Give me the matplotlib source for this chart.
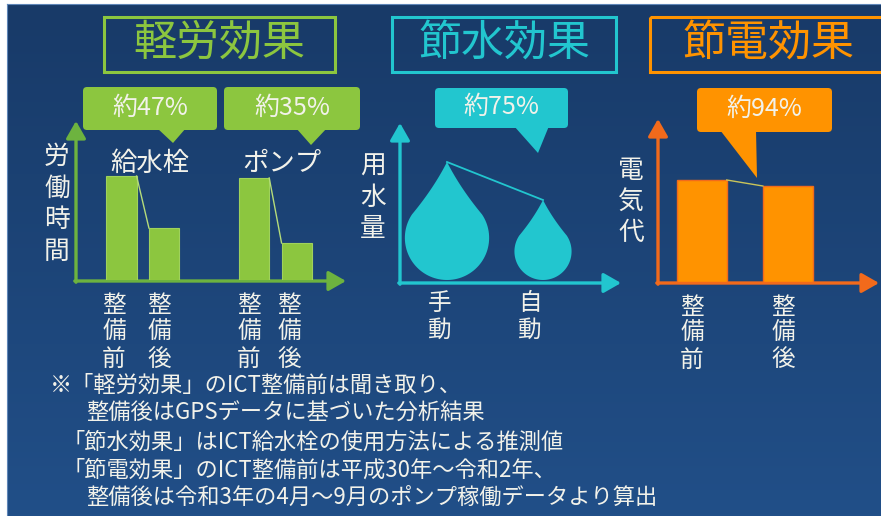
import numpy as np
import matplotlib
matplotlib.use('Agg')
import matplotlib.pyplot as plt
from matplotlib.patches import FancyBboxPatch, Polygon, Rectangle
from matplotlib.colors import to_rgb

plt.rcParams['font.family'] = ['Noto Sans CJK JP', 'DejaVu Sans']

# ---------------- data ----------------
titles = ['軽労効果', '節水効果', '節電効果']
labor_groups = ['給水栓', 'ポンプ']
labor_phase = ['整備前', '整備後']
labor_hours = [[104, 52], [102, 37]]
labor_pct = ['約47%', '約35%']
labor_ylabel = '労働時間'
water_cats = ['手動', '自動']
water_volume = [118, 80]
water_pct = '約75%'
water_ylabel = '用水量'
power_cats = ['整備前', '整備後']
power_cost = [102, 96]
power_pct = '約94%'
power_ylabel = '電気代'
notes = ['※「軽労効果」のICT整備前は聞き取り、',
         '整備後はGPSデータに基づいた分析結果',
         '「節水効果」はICT給水栓の使用方法による推測値',
         '「節電効果」のICT整備前は平成30年～令和2年、',
         '整備後は令和3年の4月～9月のポンプ稼働データより算出']

# ---------------- style ----------------
GREEN = '#8cc63f'
GREEN_AX = '#6db33f'
CYAN = '#22c6cf'
ORANGE = '#ff9300'
ORANGE_AX = '#f26a1b'
TXT = '#f2f2ea'

W, H = 881, 516
fig = plt.figure(figsize=(W / 100, H / 100), dpi=100)
fig.patch.set_facecolor('white')

bg = fig.add_axes([0, 0, 1, 1])
bg.set_xlim(0, W)
bg.set_ylim(H, 0)
bg.axis('off')

# background gradient
c_top = np.array(to_rgb('#183a68'))
c_bot = np.array(to_rgb('#214f88'))
t = np.linspace(0, 1, 256)[:, None, None]
grad = c_top * (1 - t) + c_bot * t
grad = np.repeat(grad, 2, axis=1)
bg.imshow(grad, extent=(7, W, H, 4), aspect='auto', origin='upper', zorder=0)
bg.plot([7, 7], [4, H], color='#5f86b8', lw=0.8, zorder=1)
bg.plot([7, W], [4, 4], color='#5f86b8', lw=0.8, zorder=1)


def px_axes(x0, y0, x1, y1):
    ax = fig.add_axes([x0 / W, 1 - y1 / H, (x1 - x0) / W, (y1 - y0) / H])
    ax.patch.set_alpha(0)
    ax.axis('off')
    return ax


def vtext(x, y0, s, dy, size, color=TXT):
    for k, ch in enumerate(s):
        bg.text(x, y0 + k * dy, ch, ha='center', va='center',
                fontsize=size, color=color, zorder=5)


def axis_arrows(ox, oy, top, right, color):
    ap = dict(arrowstyle='-|>,head_length=0.7,head_width=0.4', lw=2.4,
              color=color, shrinkA=0, shrinkB=0, mutation_scale=15)
    bg.annotate('', xy=(ox, top), xytext=(ox, oy + 1.2), arrowprops=ap, zorder=4)
    bg.annotate('', xy=(right, oy), xytext=(ox - 1.2, oy), arrowprops=ap, zorder=4)


def callout(x0, x1, y0, y1, tri, color, text):
    box = FancyBboxPatch((x0 + 4, y0 + 4), x1 - x0 - 8, y1 - y0 - 8,
                         boxstyle='round,pad=4', fc=color, ec='none', zorder=3)
    bg.add_patch(box)
    bg.add_patch(Polygon(tri, closed=True, fc=color, ec='none', zorder=3))
    bg.text((x0 + x1) / 2, (y0 + y1) / 2 - 1, text, ha='center', va='center',
            fontsize=18, color=TXT, zorder=5)


# ---------------- titles ----------------
title_boxes = [(104, 335, GREEN, 219), (392, 616, CYAN, 504), (650, 905, ORANGE, 768)]
for (x0, x1, c, tx), ttl in zip(title_boxes, titles):
    bg.add_patch(Rectangle((x0, 17), x1 - x0, 55, fill=False, ec=c, lw=2.2, zorder=3))
    bg.text(tx, 44, ttl, ha='center', va='center', fontsize=31, color=c, zorder=5)

# ---------------- panel 1: labor ----------------
axis_arrows(76, 281, 121, 346, GREEN_AX)
ax1 = px_axes(76, 123, 343, 280)
ax1.set_ylim(0, 157)
ax1.set_xlim(-1.07, 5.21)
bw = 0.71
for g, vals in enumerate(labor_hours):
    xs = [g * 3.12 + i for i in range(len(vals))]
    ax1.bar(xs, vals, width=bw, color=GREEN, edgecolor='#9fd25c', lw=0.8, zorder=2)
    ax1.plot([xs[0] + bw / 2, xs[1] - bw / 2], [vals[0], vals[1]],
             color='#b5dc7a', lw=1.0, zorder=3)
    bg.text([150, 282][g], 163, labor_groups[g], ha='center', va='center',
            fontsize=19, color=TXT, zorder=5)
    for i, ph in enumerate(labor_phase):
        vtext([[114, 159], [249, 289]][g][i], 306, ph, 26.5, 17)
vtext(57, 157, labor_ylabel, 31.5, 18.5)

callout(83, 217, 87, 130, [(157, 128), (186, 128), (173, 143)], GREEN, labor_pct[0])
callout(224, 360, 87, 130, [(296, 128), (327, 128), (311, 145)], GREEN, labor_pct[1])

# ---------------- panel 2: water ----------------
axis_arrows(400, 283, 123, 621, CYAN)
ax2 = px_axes(400, 125, 618, 280)
ax2.set_xlim(0, 218)
ax2.set_ylim(0, 155)


def drop(cx, h):
    r = h / 2.8
    d = h - r
    th = np.arccos(r / d)
    ang = np.linspace(np.pi / 2 - th, th - 1.5 * np.pi, 80)
    arc = [(cx + r * np.cos(a), r + r * np.sin(a)) for a in ang]
    # slightly concave sides near the tip
    def side(p_end):
        p0 = np.array([cx, h])
        p2 = np.array(p_end)
        p1 = (p0 + p2) / 2 + np.array([(cx - p2[0]) * 0.12, 0])
        ss = np.linspace(0, 1, 20)
        return [tuple((1 - s) ** 2 * p0 + 2 * (1 - s) * s * p1 + s ** 2 * p2) for s in ss]
    right = side(arc[0])
    left = side(arc[-1])[::-1]
    return right + arc + left


tips = []
for i, v in enumerate(water_volume):
    cx = 47 + i * 96
    ax2.add_patch(Polygon(drop(cx, v), closed=True, fc=CYAN, ec='none', zorder=2))
    tips.append((cx, v))
    vtext([440, 530][i], 304, water_cats[i], 26, 17)
ax2.plot([tips[0][0], tips[1][0]], [tips[0][1], tips[1][1]], color=CYAN, lw=1.3, zorder=3)
vtext(373, 167, water_ylabel, 31, 18.5)

callout(435, 568, 88, 128, [(514, 126), (549, 126), (538, 153)], CYAN, water_pct)

# ---------------- panel 3: power ----------------
axis_arrows(658, 283, 119, 879, ORANGE_AX)
ax3 = px_axes(658, 121, 878, 282)
ax3.set_ylim(0, 161)
ax3.set_xlim(-0.51, 2.05)
bw3 = 0.58
xs3 = np.arange(len(power_cost))
ax3.bar(xs3, power_cost, width=bw3, color=ORANGE, edgecolor=ORANGE_AX, lw=1.0, zorder=2)
ax3.plot([xs3[0] + bw3 / 2, xs3[1] - bw3 / 2], power_cost, color='#c9c45a', lw=1.0, zorder=3)
for i, c in enumerate(power_cats):
    vtext([692, 783][i], 307, c, 26.5, 17)
vtext(631, 171, power_ylabel, 31, 18.5)

callout(697, 832, 88, 132, [(720, 130), (756, 130), (757, 178)], ORANGE, power_pct)

# ---------------- notes ----------------
note_x = [50, 86, 63, 63, 86]
note_y = [385, 413, 442, 470, 497]
for x, y, s in zip(note_x, note_y, notes):
    bg.text(x, y, s, ha='left', va='center', fontsize=16, color=TXT, zorder=5)

fig.savefig('out.png', dpi=100)
